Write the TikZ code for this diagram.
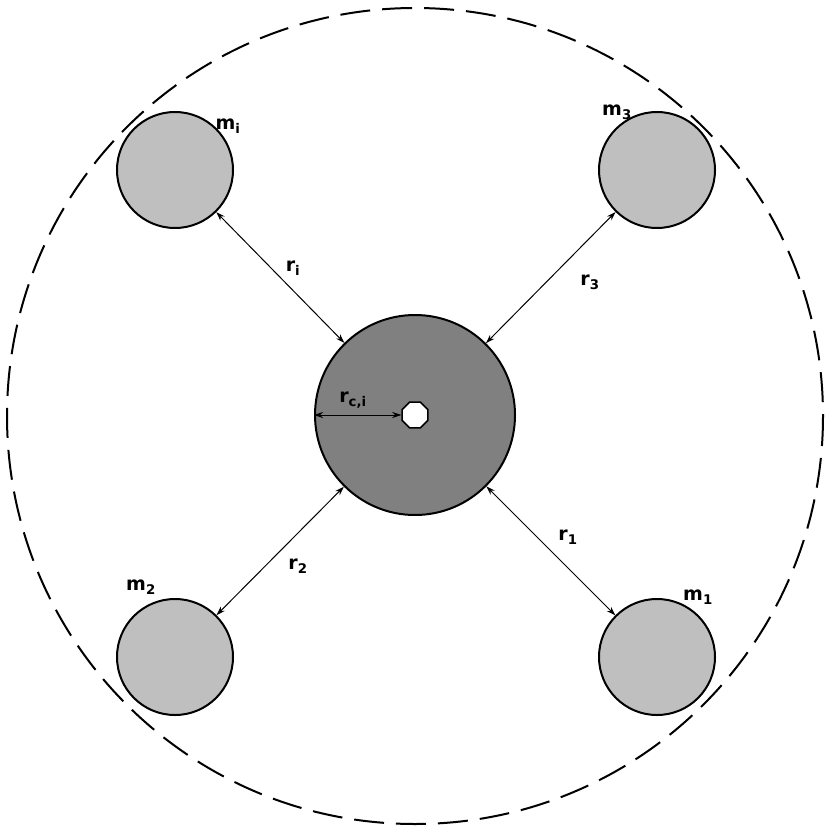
\documentclass[tikz,border=0pt]{standalone}
\usepackage{fontspec}
\setmainfont{DejaVu Sans}
\usetikzlibrary{shapes.geometric,arrows.meta}
\begin{document}
\begin{tikzpicture}[x=1pt,y=-1pt,
  mass/.style={circle,draw,line width=2pt,fill=black!25,minimum size=116pt,inner sep=0pt},
  lab/.style={font=\bfseries\fontsize{19}{22}\selectfont},
  dim/.style={{Stealth[length=9pt,width=6pt]}-{Stealth[length=9pt,width=6pt]},line width=1pt}]
\useasboundingbox (0,0) rectangle (831,832);
\draw[line width=2pt,dash pattern=on 30pt off 12pt] (415,416) circle (408);
\node[circle,draw,line width=2pt,fill=black!50,minimum size=200pt,inner sep=0pt] (c) at (415,415) {};
\node[regular polygon,regular polygon sides=8,draw,line width=1.6pt,fill=white,minimum size=28pt,inner sep=0pt] (h) at (415,415) {};
\node[mass] (mi) at (175,170) {};
\node[mass] (m3) at (657,170) {};
\node[mass] (m2) at (175,657) {};
\node[mass] (m1) at (657,657) {};
\draw[dim] (mi) -- (c);
\draw[dim] (m3) -- (c);
\draw[dim] (m2) -- (c);
\draw[dim] (m1) -- (c);
\draw[dim] (c.west) -- (h.west);
\node[lab] at (228,126) {m\textsubscript{i}};
\node[lab] at (617,112) {m\textsubscript{3}};
\node[lab] at (141,587) {m\textsubscript{2}};
\node[lab] at (698,597) {m\textsubscript{1}};
\node[lab] at (293,268) {r\textsubscript{i}};
\node[lab] at (590,282) {r\textsubscript{3}};
\node[lab] at (298,566) {r\textsubscript{2}};
\node[lab] at (568,537) {r\textsubscript{1}};
\node[lab] at (353,400) {r\textsubscript{c,i}};
\end{tikzpicture}
\end{document}
